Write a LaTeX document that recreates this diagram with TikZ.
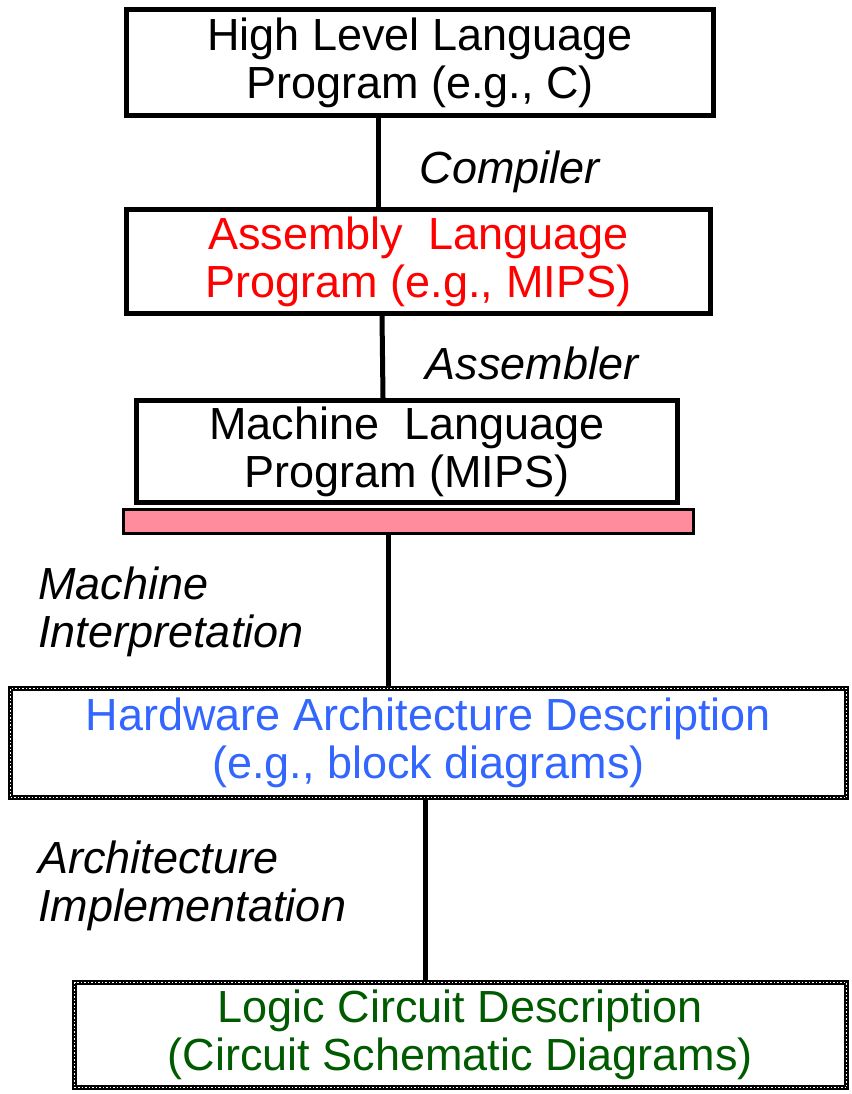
\documentclass[tikz,border=0pt]{standalone}
\usepackage{fontspec}
\setmainfont{Liberation Sans}
\usepackage{tikz}
\usetikzlibrary{calc, positioning}

\definecolor{asmred}{HTML}{FF0000}
\definecolor{hwblue}{HTML}{3366FF}
\definecolor{logicgreen}{HTML}{005A00}
\definecolor{barpink}{HTML}{FF8C9C}

\begin{document}
\begin{tikzpicture}[x=1pt, y=-1pt, thick]
        % Estilos
        \tikzstyle{level} = [draw, rectangle, line width=5pt, align=center, font=\fontsize{45}{48}\selectfont, inner sep=0pt]
        \tikzstyle{dotlevel} = [rectangle, align=center, font=\fontsize{45}{48}\selectfont, inner sep=0pt,
                preaction={draw=black, line width=5pt},
                postaction={draw=white, line width=1.5pt, dash pattern=on 1.5pt off 2pt}]
        \tikzstyle{stage} = [align=left, font=\fontsize{45}{48}\selectfont\itshape, inner sep=0pt]
        \tikzstyle{link} = [draw, line width=5pt]

        \useasboundingbox (0,0) rectangle (851,1094);

        % Niveles
        \node [level, minimum width=587pt, minimum height=106pt] at (420,62.5) (hll) {High Level Language\\Program (e.g., C)};
        \node [level, minimum width=584pt, minimum height=104pt, text=asmred] at (418.5,261.5) (asm) {Assembly~~Language\\Program (e.g., MIPS)};
        \node [level, minimum width=541pt, minimum height=102pt] at (407,451.5) (mach) {Machine~~Language\\Program (MIPS)};
        \node [draw, rectangle, line width=3pt, fill=barpink, minimum width=570pt, minimum height=24pt, inner sep=0pt] at (408.5,521.5) (isa) {};
        \node [dotlevel, minimum width=836pt, minimum height=109pt, text=hwblue] at (428.5,743) (hw) {Hardware Architecture Description\\(e.g., block diagrams)};
        \node [dotlevel, minimum width=772pt, minimum height=105pt, text=logicgreen] at (460.5,1035) (logic) {Logic Circuit Description\\(Circuit Schematic Diagrams)};

        % Etiquetas de traducción
        \node [stage] at (510,172) (compiler) {Compiler};
        \node [stage] at (532,363) (assembler) {Assembler};
        \node [stage, anchor=west] at (38,612) (interp) {Machine\\Interpretation};
        \node [stage, anchor=west] at (38,886) (impl) {Architecture\\Implementation};

        % Conexiones
        \draw [link] ([xshift=-42pt]hll.south) -- ([xshift=-40.5pt]asm.north);
        \draw [link] ([xshift=-36.5pt]asm.south) -- ([xshift=-24pt]mach.north);
        \draw [link] ([xshift=-20.5pt]isa.south) -- ([xshift=-40.5pt]hw.north);
        \draw [link] ([xshift=-3.5pt]hw.south) -- ([xshift=-35.5pt]logic.north);
\end{tikzpicture}
\end{document}
